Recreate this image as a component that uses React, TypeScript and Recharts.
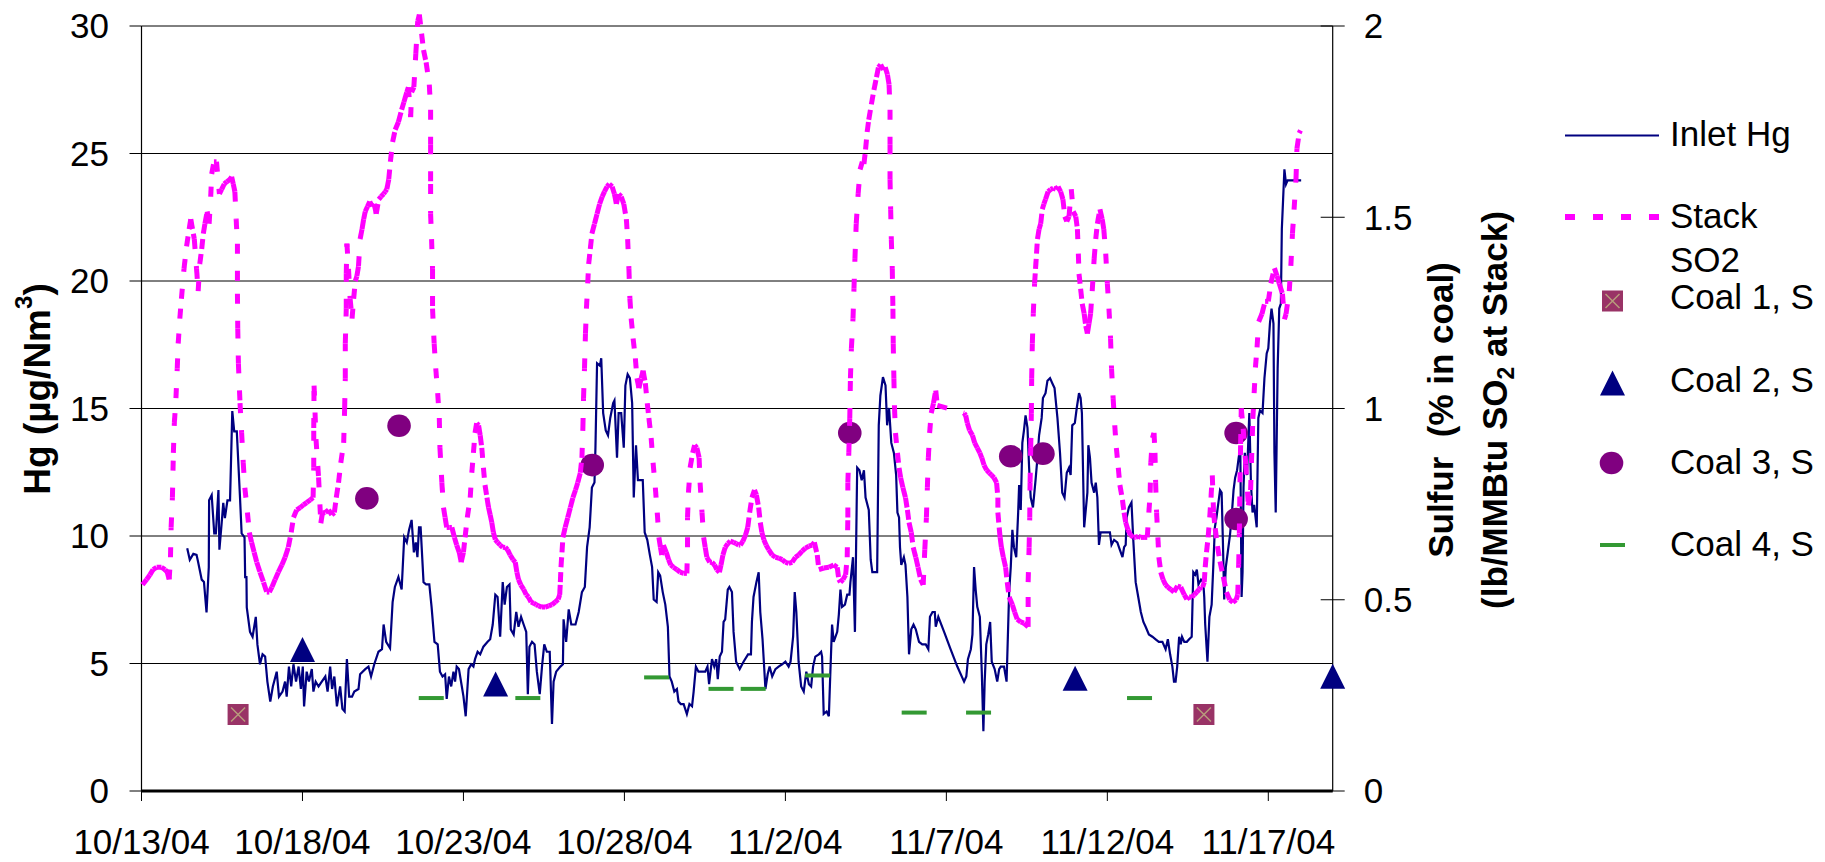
import React from 'react';
import {
  ComposedChart,
  Line,
  Scatter,
  XAxis,
  YAxis,
  CartesianGrid,
  ReferenceLine,
  Legend,
} from 'recharts';

const NAVY = '#000080';
const MAGENTA = '#FF00FF';
const PURPLE = '#800080';
const GREEN = '#339933';
const MAUVE = '#993366';
const FONT = "'Liberation Sans', Arial, Helvetica, sans-serif";

// x axis: days since 10/13/04
const dayTicks = [0, 5, 10, 15, 20, 25, 30, 35];
const dateLabels = ['10/13/04', '10/18/04', '10/23/04', '10/28/04', '11/2/04', '11/7/04', '11/12/04', '11/17/04'];
const hgTicks = [0, 5, 10, 15, 20, 25, 30];
const sulfurTicks = [0, 0.5, 1, 1.5, 2];
const sulfurTickLabels = ['0', '0.5', '1', '1.5', '2'];

// Inlet Hg (µg/Nm³): [day, value]
const inletHg: [number, number][] = [
  [1.42, 9.52], [1.5, 9.07], [1.61, 9.3], [1.71, 9.26], [1.76, 8.97], [1.87, 8.29], [1.94, 8.2], [2.02, 7.0],
  [2.09, 8.78], [2.1, 11.4], [2.18, 11.6], [2.26, 10.1], [2.31, 10.1], [2.39, 11.8], [2.42, 9.46], [2.49, 10.5],
  [2.54, 11.3], [2.59, 10.7], [2.67, 11.4], [2.75, 11.4], [2.82, 14.9], [2.88, 14.1], [2.96, 14.1], [3.06, 11.5],
  [3.11, 10.1], [3.2, 9.95], [3.22, 8.39], [3.26, 8.39], [3.27, 7.2], [3.37, 6.24], [3.45, 6.05], [3.55, 6.83],
  [3.6, 5.75], [3.68, 4.97], [3.76, 5.36], [3.84, 5.27], [3.91, 4.29], [4.0, 3.51], [4.08, 4.1], [4.2, 4.68],
  [4.27, 3.7], [4.38, 3.9], [4.46, 4.29], [4.51, 3.7], [4.58, 4.88], [4.65, 4.1], [4.72, 4.97], [4.8, 4.29],
  [4.88, 4.88], [4.95, 4.0], [5.01, 4.88], [5.05, 3.32], [5.13, 4.68], [5.2, 4.29], [5.29, 4.78], [5.34, 3.9],
  [5.41, 4.29], [5.5, 4.1], [5.6, 4.29], [5.71, 4.49], [5.78, 3.9], [5.86, 4.88], [5.92, 4.0], [5.99, 4.49],
  [6.07, 3.32], [6.17, 4.1], [6.24, 3.22], [6.31, 3.12], [6.38, 5.17], [6.45, 3.7], [6.54, 3.7], [6.61, 3.9],
  [6.74, 4.0], [6.79, 4.58], [6.95, 4.78], [7.05, 4.88], [7.13, 4.49], [7.23, 4.97], [7.36, 5.46], [7.47, 5.56],
  [7.52, 6.53], [7.6, 5.85], [7.72, 5.6], [7.8, 7.41], [7.87, 8.0], [7.98, 8.39], [8.08, 7.9], [8.16, 9.95],
  [8.24, 9.75], [8.31, 10.24], [8.39, 10.63], [8.46, 9.36], [8.52, 9.75], [8.57, 9.17], [8.62, 10.34], [8.67, 10.34],
  [8.76, 8.19], [8.84, 8.1], [8.94, 8.1], [9.01, 7.22], [9.1, 5.85], [9.2, 5.75], [9.27, 4.68], [9.35, 4.49],
  [9.43, 4.58], [9.48, 3.61], [9.55, 4.49], [9.62, 4.1], [9.69, 4.68], [9.74, 4.29], [9.79, 4.88], [9.86, 4.78],
  [9.95, 4.1], [10.0, 3.71], [10.07, 2.93], [10.16, 4.78], [10.24, 4.97], [10.31, 4.88], [10.36, 5.17], [10.44, 5.46],
  [10.52, 5.36], [10.62, 5.66], [10.75, 5.85], [10.83, 5.95], [10.91, 6.53], [10.99, 7.7], [11.06, 7.61], [11.14, 6.05],
  [11.22, 8.19], [11.28, 7.31], [11.35, 8.0], [11.43, 8.1], [11.47, 6.34], [11.56, 6.14], [11.64, 7.02], [11.71, 6.44],
  [11.79, 6.83], [11.87, 6.53], [11.95, 6.24], [12.0, 3.8], [12.05, 5.66], [12.13, 5.85], [12.21, 5.75], [12.28, 4.68],
  [12.37, 3.8], [12.44, 4.88], [12.51, 5.75], [12.59, 5.46], [12.68, 5.46], [12.75, 2.63], [12.8, 4.29], [12.88, 4.68],
  [13.01, 4.88], [13.09, 4.97], [13.11, 6.73], [13.19, 5.85], [13.27, 7.12], [13.35, 6.53], [13.48, 6.53], [13.58, 7.02],
  [13.68, 7.8], [13.77, 8.0], [13.84, 9.56], [13.92, 10.34], [13.99, 11.9], [14.07, 12.1], [14.1, 13.46], [14.15, 16.77],
  [14.24, 16.68], [14.28, 16.97], [14.34, 14.82], [14.42, 14.14], [14.49, 13.95], [14.56, 14.63], [14.65, 15.21], [14.69, 15.31],
  [14.77, 13.07], [14.82, 14.82], [14.9, 14.82], [14.98, 13.46], [15.03, 15.9], [15.1, 16.34], [15.17, 16.19], [15.24, 15.21],
  [15.29, 11.51], [15.36, 13.56], [15.42, 12.19], [15.5, 12.19], [15.57, 12.19], [15.63, 10.14], [15.71, 9.85], [15.79, 9.26],
  [15.86, 8.78], [15.91, 7.51], [16.0, 7.41], [16.05, 8.58], [16.11, 8.45], [16.19, 7.8], [16.27, 7.31], [16.35, 6.44],
  [16.4, 4.49], [16.47, 4.29], [16.55, 3.9], [16.63, 4.0], [16.68, 3.51], [16.75, 3.41], [16.84, 3.41], [16.94, 3.02],
  [17.02, 3.41], [17.1, 3.32], [17.15, 3.9], [17.22, 4.88], [17.3, 4.68], [17.41, 4.68], [17.51, 4.68], [17.58, 4.88],
  [17.63, 4.19], [17.72, 5.17], [17.79, 4.88], [17.85, 5.17], [17.9, 4.39], [17.96, 5.27], [18.03, 5.46], [18.08, 6.63],
  [18.13, 6.73], [18.21, 7.9], [18.26, 8.0], [18.34, 7.8], [18.39, 6.24], [18.47, 5.07], [18.58, 4.78], [18.7, 5.07],
  [18.84, 5.36], [18.93, 5.36], [18.96, 6.63], [19.01, 7.61], [19.1, 8.19], [19.17, 8.58], [19.22, 7.02], [19.29, 5.95],
  [19.38, 4.0], [19.45, 4.58], [19.51, 4.88], [19.59, 4.49], [19.69, 4.78], [19.79, 4.88], [19.9, 4.97], [20.0, 5.07],
  [20.1, 4.88], [20.16, 5.07], [20.24, 6.05], [20.29, 7.8], [20.34, 7.02], [20.41, 5.07], [20.49, 4.1], [20.57, 3.9],
  [20.65, 4.68], [20.73, 4.19], [20.8, 4.1], [20.86, 4.88], [20.93, 5.27], [21.04, 5.36], [21.11, 5.46], [21.14, 5.27],
  [21.19, 3.02], [21.28, 3.12], [21.35, 2.93], [21.4, 4.78], [21.45, 6.53], [21.5, 5.85], [21.61, 6.24], [21.66, 6.92],
  [21.71, 7.9], [21.76, 7.22], [21.85, 7.31], [21.92, 7.7], [21.99, 7.7], [22.02, 8.19], [22.1, 9.17], [22.16, 6.24],
  [22.23, 12.68], [22.3, 12.58], [22.37, 12.19], [22.44, 12.58], [22.49, 11.51], [22.59, 11.02], [22.65, 9.07], [22.7, 8.58],
  [22.8, 8.58], [22.85, 8.58], [22.9, 14.34], [22.95, 15.51], [23.03, 16.23], [23.11, 15.9], [23.16, 14.34], [23.22, 15.02],
  [23.29, 13.65], [23.37, 13.26], [23.44, 12.39], [23.48, 10.92], [23.53, 10.73], [23.56, 9.56], [23.6, 8.87], [23.68, 9.17],
  [23.73, 8.87], [23.79, 7.61], [23.84, 5.36], [23.91, 6.34], [23.98, 6.53], [24.05, 6.34], [24.15, 5.85], [24.25, 5.75],
  [24.36, 5.75], [24.44, 5.56], [24.49, 6.83], [24.57, 7.02], [24.64, 7.02], [24.67, 6.44], [24.75, 6.83], [24.93, 6.24],
  [25.13, 5.56], [25.34, 4.88], [25.55, 4.29], [25.62, 4.49], [25.67, 5.17], [25.76, 5.56], [25.81, 6.14], [25.86, 8.78],
  [25.91, 7.9], [25.96, 7.22], [26.04, 6.83], [26.1, 4.68], [26.15, 2.34], [26.19, 4.29], [26.24, 5.75], [26.3, 6.14],
  [26.36, 6.63], [26.41, 5.07], [26.5, 4.78], [26.58, 4.29], [26.64, 4.78], [26.69, 4.88], [26.79, 4.88], [26.87, 4.29],
  [26.95, 7.8], [27.0, 8.78], [27.05, 10.24], [27.1, 9.56], [27.17, 9.17], [27.23, 10.92], [27.26, 12.0], [27.31, 11.02],
  [27.36, 13.65], [27.41, 14.14], [27.46, 14.73], [27.52, 14.24], [27.57, 12.68], [27.62, 11.51], [27.69, 11.12], [27.77, 12.19],
  [27.83, 13.07], [27.88, 13.95], [27.96, 14.63], [28.0, 15.41], [28.08, 15.6], [28.14, 16.09], [28.22, 16.19], [28.29, 15.99],
  [28.36, 15.8], [28.45, 14.63], [28.53, 13.26], [28.6, 11.7], [28.67, 11.51], [28.74, 12.48], [28.81, 12.68], [28.86, 12.39],
  [28.91, 14.34], [28.99, 14.43], [29.05, 15.02], [29.12, 15.6], [29.17, 15.41], [29.21, 14.82], [29.28, 10.34], [29.33, 11.02],
  [29.38, 11.7], [29.41, 13.56], [29.46, 13.07], [29.51, 12.09], [29.59, 11.7], [29.64, 12.09], [29.69, 11.51], [29.74, 9.65],
  [29.79, 10.14], [29.9, 10.14], [30.0, 10.14], [30.08, 10.14], [30.13, 9.65], [30.21, 9.85], [30.31, 9.75], [30.39, 9.46],
  [30.47, 9.17], [30.52, 9.56], [30.57, 9.65], [30.6, 10.73], [30.67, 11.12], [30.75, 11.31], [30.81, 9.75], [30.88, 8.19],
  [30.96, 7.61], [31.04, 7.02], [31.12, 6.63], [31.19, 6.44], [31.29, 6.14], [31.4, 6.05], [31.5, 5.95], [31.6, 5.85],
  [31.71, 5.85], [31.81, 5.56], [31.88, 5.95], [31.95, 5.36], [32.02, 4.88], [32.07, 4.29], [32.12, 4.29], [32.17, 4.88],
  [32.23, 6.05], [32.28, 5.75], [32.32, 6.05], [32.39, 5.85], [32.47, 5.85], [32.54, 5.95], [32.62, 6.05], [32.67, 8.58],
  [32.73, 8.48], [32.78, 8.68], [32.83, 8.1], [32.91, 8.29], [32.98, 8.19], [33.01, 7.61], [33.04, 6.53], [33.11, 5.07],
  [33.17, 6.83], [33.24, 7.31], [33.29, 8.78], [33.34, 10.34], [33.39, 10.73], [33.45, 11.31], [33.5, 11.8], [33.55, 11.7],
  [33.59, 9.75], [33.63, 7.51], [33.68, 8.78], [33.74, 9.36], [33.81, 10.04], [33.86, 10.73], [33.92, 11.8], [33.97, 12.29],
  [34.03, 12.58], [34.08, 13.07], [34.13, 13.46], [34.17, 7.61], [34.2, 8.58], [34.23, 11.9], [34.27, 13.26], [34.34, 12.39],
  [34.41, 14.82], [34.46, 12.09], [34.51, 10.92], [34.56, 11.22], [34.64, 10.34], [34.69, 14.63], [34.74, 14.92], [34.82, 14.82],
  [34.88, 16.19], [34.95, 17.16], [35.0, 17.36], [35.05, 18.33], [35.1, 18.92], [35.16, 18.33], [35.19, 13.26], [35.23, 10.92],
  [35.29, 16.58], [35.34, 18.92], [35.39, 19.11], [35.42, 22.04], [35.46, 23.21], [35.5, 24.38], [35.55, 23.8], [35.6, 23.95],
  [35.7, 23.95], [35.86, 23.95], [36.02, 23.95],
];

// Stack SO2 (lb/MMBtu): [day, value]
const stackSO2: [number, number][] = [
  [0.03, 0.539], [0.16, 0.553], [0.26, 0.565], [0.36, 0.579], [0.47, 0.585], [0.62, 0.585], [0.73, 0.579], [0.8, 0.572],
  [0.86, 0.553], [0.9, 0.611], [0.92, 0.689], [0.96, 0.767], [0.99, 0.884], [1.02, 0.962], [1.07, 1.027], [1.11, 1.105],
  [1.14, 1.17], [1.19, 1.235], [1.24, 1.287], [1.32, 1.365], [1.4, 1.424], [1.48, 1.469], [1.53, 1.495], [1.61, 1.457],
  [1.64, 1.443], [1.71, 1.365], [1.76, 1.307], [1.81, 1.378], [1.87, 1.417], [1.92, 1.457], [1.97, 1.483], [2.04, 1.515],
  [2.1, 1.483], [2.15, 1.554], [2.18, 1.613], [2.25, 1.645], [2.33, 1.645], [2.42, 1.561], [2.49, 1.573], [2.57, 1.587],
  [2.65, 1.593], [2.75, 1.599], [2.8, 1.606], [2.85, 1.587], [2.9, 1.567], [2.94, 1.495], [2.98, 1.431], [2.98, 1.3],
  [2.99, 1.209], [3.01, 1.118], [3.06, 1.014], [3.11, 0.936], [3.16, 0.858], [3.21, 0.793], [3.29, 0.728], [3.35, 0.676],
  [3.42, 0.65], [3.5, 0.624], [3.58, 0.598], [3.68, 0.572], [3.79, 0.546], [3.89, 0.52], [3.97, 0.52], [4.05, 0.533],
  [4.15, 0.553], [4.25, 0.572], [4.36, 0.591], [4.46, 0.611], [4.56, 0.637], [4.65, 0.676], [4.72, 0.715], [4.82, 0.735],
  [4.93, 0.741], [5.03, 0.748], [5.13, 0.754], [5.24, 0.761], [5.33, 0.767], [5.35, 0.845], [5.35, 0.949], [5.36, 1.06],
  [5.42, 0.92], [5.5, 0.82], [5.57, 0.7], [5.62, 0.727], [5.71, 0.728], [5.81, 0.735], [5.91, 0.722], [5.99, 0.728],
  [6.05, 0.767], [6.12, 0.806], [6.19, 0.858], [6.28, 0.91], [6.31, 1.001], [6.33, 1.079], [6.33, 1.17], [6.36, 1.261],
  [6.36, 1.352], [6.38, 1.431], [6.43, 1.365], [6.48, 1.287], [6.54, 1.235], [6.59, 1.287], [6.64, 1.333], [6.69, 1.346],
  [6.74, 1.372], [6.79, 1.443], [6.85, 1.469], [6.9, 1.495], [6.95, 1.515], [7.02, 1.528], [7.09, 1.541], [7.16, 1.528],
  [7.23, 1.535], [7.29, 1.509], [7.37, 1.547], [7.44, 1.554], [7.52, 1.561], [7.57, 1.567], [7.62, 1.573], [7.68, 1.599],
  [7.73, 1.645], [7.8, 1.697], [7.88, 1.729], [7.98, 1.749], [8.08, 1.781], [8.15, 1.801], [8.24, 1.827], [8.29, 1.84],
  [8.36, 1.762], [8.39, 1.827], [8.46, 1.84], [8.52, 1.927], [8.58, 2.013], [8.63, 2.03], [8.7, 1.98], [8.76, 1.937],
  [8.84, 1.905], [8.94, 1.847], [8.98, 1.781], [8.98, 1.691], [8.98, 1.587], [8.98, 1.509], [9.01, 1.443], [9.04, 1.365],
  [9.04, 1.261], [9.09, 1.17], [9.14, 1.105], [9.2, 1.04], [9.25, 0.975], [9.27, 0.897], [9.33, 0.806], [9.38, 0.741],
  [9.43, 0.715], [9.48, 0.689], [9.56, 0.689], [9.64, 0.689], [9.72, 0.663], [9.79, 0.643], [9.87, 0.624], [9.93, 0.598],
  [10.0, 0.624], [10.05, 0.663], [10.12, 0.715], [10.21, 0.767], [10.26, 0.832], [10.31, 0.884], [10.36, 0.936], [10.41, 0.962],
  [10.47, 0.956], [10.52, 0.93], [10.57, 0.897], [10.62, 0.845], [10.67, 0.8], [10.73, 0.767], [10.78, 0.741], [10.83, 0.722],
  [10.88, 0.702], [10.93, 0.676], [10.99, 0.657], [11.06, 0.65], [11.14, 0.643], [11.22, 0.637], [11.3, 0.637], [11.37, 0.631],
  [11.45, 0.617], [11.54, 0.605], [11.61, 0.598], [11.66, 0.572], [11.71, 0.553], [11.78, 0.539], [11.87, 0.527], [11.95, 0.513],
  [12.02, 0.507], [12.1, 0.494], [12.18, 0.491], [12.26, 0.487], [12.33, 0.484], [12.44, 0.481], [12.54, 0.481], [12.65, 0.484],
  [12.75, 0.487], [12.85, 0.494], [12.94, 0.501], [12.99, 0.513], [13.01, 0.546], [13.03, 0.585], [13.06, 0.624], [13.09, 0.663],
  [13.16, 0.689], [13.24, 0.715], [13.32, 0.741], [13.4, 0.767], [13.48, 0.787], [13.55, 0.806], [13.63, 0.832], [13.68, 0.871],
  [13.71, 0.949], [13.73, 1.027], [13.76, 1.105], [13.79, 1.196], [13.82, 1.261], [13.86, 1.327], [13.89, 1.378], [13.94, 1.417],
  [13.99, 1.457], [14.07, 1.483], [14.15, 1.509], [14.23, 1.535], [14.31, 1.554], [14.38, 1.567], [14.46, 1.58], [14.53, 1.587],
  [14.62, 1.58], [14.69, 1.561], [14.75, 1.535], [14.82, 1.561], [14.9, 1.554], [14.98, 1.535], [15.06, 1.495], [15.1, 1.443],
  [15.14, 1.365], [15.17, 1.287], [15.21, 1.235], [15.27, 1.183], [15.34, 1.131], [15.39, 1.079], [15.45, 1.053], [15.52, 1.079],
  [15.58, 1.099], [15.65, 1.066], [15.71, 1.014], [15.76, 0.975], [15.83, 0.923], [15.89, 0.858], [15.96, 0.793], [16.02, 0.728],
  [16.07, 0.663], [16.12, 0.637], [16.16, 0.617], [16.21, 0.643], [16.3, 0.624], [16.37, 0.605], [16.44, 0.591], [16.52, 0.585],
  [16.63, 0.579], [16.73, 0.572], [16.84, 0.569], [16.94, 0.569], [16.96, 0.637], [16.96, 0.715], [16.99, 0.78], [17.04, 0.845],
  [17.12, 0.884], [17.18, 0.904], [17.25, 0.897], [17.32, 0.871], [17.35, 0.806], [17.41, 0.728], [17.46, 0.663], [17.51, 0.637],
  [17.56, 0.611], [17.65, 0.598], [17.72, 0.598], [17.8, 0.591], [17.87, 0.579], [17.95, 0.572], [18.0, 0.591], [18.06, 0.617],
  [18.13, 0.637], [18.21, 0.647], [18.29, 0.653], [18.39, 0.65], [18.47, 0.647], [18.55, 0.643], [18.6, 0.643], [18.68, 0.653],
  [18.76, 0.669], [18.83, 0.689], [18.89, 0.728], [18.96, 0.767], [19.04, 0.787], [19.1, 0.774], [19.17, 0.741], [19.22, 0.702],
  [19.27, 0.676], [19.33, 0.657], [19.4, 0.643], [19.48, 0.631], [19.59, 0.617], [19.69, 0.611], [19.79, 0.609], [19.9, 0.605],
  [20.0, 0.598], [20.1, 0.595], [20.21, 0.598], [20.31, 0.611], [20.41, 0.617], [20.52, 0.627], [20.62, 0.635], [20.73, 0.64],
  [20.83, 0.643], [20.9, 0.65], [20.99, 0.617], [21.04, 0.579], [21.19, 0.583], [21.35, 0.585], [21.5, 0.591], [21.61, 0.585],
  [21.66, 0.553], [21.71, 0.546], [21.79, 0.553], [21.87, 0.565], [21.92, 0.611], [21.94, 0.715], [21.94, 0.806], [21.97, 0.884],
  [22.0, 0.975], [22.02, 1.079], [22.05, 1.157], [22.1, 1.235], [22.13, 1.313], [22.16, 1.391], [22.2, 1.483], [22.26, 1.561],
  [22.32, 1.625], [22.39, 1.645], [22.44, 1.639], [22.49, 1.677], [22.54, 1.723], [22.59, 1.755], [22.67, 1.795], [22.75, 1.833],
  [22.83, 1.866], [22.89, 1.892], [22.96, 1.899], [23.04, 1.885], [23.1, 1.892], [23.17, 1.873], [23.22, 1.847], [23.25, 1.781],
  [23.25, 1.691], [23.25, 1.599], [23.27, 1.521], [23.29, 1.443], [23.32, 1.365], [23.34, 1.261], [23.35, 1.17], [23.37, 1.079],
  [23.39, 1.001], [23.42, 0.936], [23.48, 0.884], [23.53, 0.845], [23.58, 0.819], [23.65, 0.793], [23.73, 0.767], [23.79, 0.735],
  [23.84, 0.702], [23.91, 0.676], [23.97, 0.637], [24.05, 0.611], [24.12, 0.585], [24.2, 0.553], [24.28, 0.539], [24.33, 0.631],
  [24.38, 0.715], [24.41, 0.793], [24.44, 0.871], [24.48, 0.936], [24.53, 0.988], [24.6, 1.014], [24.67, 1.047], [24.72, 1.008],
  [25.55, 0.988], [25.6, 0.982], [25.65, 0.962], [25.72, 0.943],
  [25.81, 0.93], [25.88, 0.91], [25.96, 0.897], [26.04, 0.884], [26.1, 0.871], [26.17, 0.852], [26.25, 0.839], [26.33, 0.832],
  [26.4, 0.826], [26.48, 0.819], [26.56, 0.806], [26.6, 0.767], [26.6, 0.728], [26.64, 0.689], [26.67, 0.663], [26.71, 0.637],
  [26.77, 0.611], [26.84, 0.585], [26.89, 0.546], [26.95, 0.507], [27.05, 0.487], [27.12, 0.468], [27.2, 0.449], [27.31, 0.442],
  [27.41, 0.439], [27.54, 0.429], [27.54, 0.481], [27.54, 0.546], [27.57, 0.637], [27.59, 0.715], [27.6, 0.806], [27.62, 0.897],
  [27.64, 0.988], [27.65, 1.079], [27.67, 1.17], [27.7, 1.248], [27.74, 1.327], [27.77, 1.365], [27.8, 1.405], [27.83, 1.443],
  [27.88, 1.469], [27.93, 1.483], [27.98, 1.521], [28.03, 1.535], [28.08, 1.547], [28.16, 1.567], [28.24, 1.573], [28.32, 1.576],
  [28.4, 1.573], [28.47, 1.58], [28.55, 1.567], [28.62, 1.547], [28.68, 1.502], [28.74, 1.489], [28.81, 1.502], [28.88, 1.573],
  [28.94, 1.515], [29.02, 1.502], [29.07, 1.469], [29.1, 1.405], [29.12, 1.352], [29.17, 1.313], [29.22, 1.274], [29.28, 1.248],
  [29.33, 1.216], [29.38, 1.196], [29.43, 1.222], [29.48, 1.248], [29.53, 1.307], [29.59, 1.391], [29.64, 1.443], [29.69, 1.483],
  [29.77, 1.521], [29.84, 1.495], [29.89, 1.469], [29.95, 1.405], [30.0, 1.327], [30.05, 1.261], [30.1, 1.183], [30.13, 1.105],
  [30.18, 1.027], [30.23, 0.956], [30.28, 0.897], [30.34, 0.845], [30.39, 0.8], [30.47, 0.761], [30.52, 0.728], [30.57, 0.702],
  [30.64, 0.683], [30.72, 0.669], [30.81, 0.663], [30.88, 0.663], [30.96, 0.666], [31.04, 0.663], [31.14, 0.663], [31.24, 0.663],
  [31.29, 0.728], [31.33, 0.78], [31.35, 0.858], [31.4, 0.923], [31.45, 0.936], [31.48, 0.884], [31.5, 0.806], [31.53, 0.728],
  [31.57, 0.663], [31.6, 0.611], [31.66, 0.572], [31.73, 0.553], [31.81, 0.539], [31.88, 0.533], [31.97, 0.527], [32.07, 0.52],
  [32.18, 0.536], [32.28, 0.533], [32.39, 0.513], [32.47, 0.501], [32.54, 0.507], [32.62, 0.507], [32.7, 0.513], [32.78, 0.52],
  [32.85, 0.527], [32.91, 0.533], [32.96, 0.533], [33.01, 0.546], [33.04, 0.585], [33.08, 0.624], [33.13, 0.663], [33.18, 0.715],
  [33.22, 0.767], [33.26, 0.825], [33.3, 0.727], [33.35, 0.687], [33.42, 0.64], [33.5, 0.6], [33.6, 0.56], [33.7, 0.52],
  [33.8, 0.5], [33.9, 0.493], [34.0, 0.5], [34.05, 0.513], [34.08, 0.593], [34.1, 0.673], [34.12, 0.807], [34.14, 0.907],
  [34.16, 1.0], [34.22, 0.947], [34.3, 0.853], [34.38, 0.747], [34.45, 0.787], [34.52, 0.973], [34.56, 1.04], [34.6, 1.107],
  [34.65, 1.16], [34.7, 1.227], [34.8, 1.247], [34.9, 1.28], [35.0, 1.28], [35.08, 1.327], [35.19, 1.367], [35.27, 1.347],
  [35.34, 1.327], [35.44, 1.3], [35.5, 1.233], [35.55, 1.247], [35.65, 1.307], [35.7, 1.373], [35.75, 1.457], [35.8, 1.52],
  [35.86, 1.6], [35.89, 1.68], [35.96, 1.72], [36.0, 1.727],
];

// Coal sulfur (% in coal): [day, value]
const coal1S: [number, number][] = [[3, 0.2], [33, 0.2]];
const coal2S: [number, number][] = [[5, 0.37], [11, 0.28], [29, 0.295], [37, 0.3]];
const coal3S: [number, number][] = [[7, 0.765], [8, 0.955], [14, 0.852], [22, 0.936], [27, 0.875], [28, 0.882], [34, 0.936], [34, 0.711]];
const coal4S: [number, number][] = [[9, 0.243], [12, 0.243], [16, 0.297], [18, 0.267], [19, 0.267], [21, 0.302], [24, 0.205], [26, 0.205], [31, 0.243]];

const legendNames = ['Inlet Hg', 'Stack SO2', 'Coal 1, S', 'Coal 2, S', 'Coal 3, S', 'Coal 4, S'];

const rows = (pairs: [number, number][]) => pairs.map(([day, v]) => ({ day, v }));

const hgData = rows(inletHg);
const so2Data = rows(stackSO2);
const coal1Data = rows(coal1S);
const coal2Data = rows(coal2S);
const coal3Data = rows(coal3S);
const coal4Data = rows(coal4S);

// Each SO2 segment restarts its dash pattern, so short wiggly stretches read as solid
const So2Segment = (props: any) => {
  const { cx, cy, index, points } = props;
  const next = points ? points[index + 1] : undefined;
  if (!next || cx == null || cy == null || next.x == null || next.y == null) {
    return <g key={`so2-${index}`} />;
  }
  return (
    <line
      key={`so2-${index}`}
      x1={cx}
      y1={cy}
      x2={next.x}
      y2={next.y}
      stroke={MAGENTA}
      strokeWidth={5}
      strokeDasharray="10 17"
      strokeLinecap="butt"
    />
  );
};

const SquareMark = ({ cx, cy }: any) => (
  <g>
    <rect x={cx - 10.5} y={cy - 10.5} width={21} height={21} fill={MAUVE} />
    <path
      d={`M${cx - 7},${cy - 7}L${cx + 7},${cy + 7}M${cx + 7},${cy - 7}L${cx - 7},${cy + 7}`}
      stroke="#b89c7c"
      strokeWidth={1.5}
    />
  </g>
);
const TriangleMark = ({ cx, cy }: any) => (
  <polygon points={`${cx},${cy - 12.5} ${cx + 12.5},${cy + 12.5} ${cx - 12.5},${cy + 12.5}`} fill={NAVY} />
);
const CircleMark = ({ cx, cy }: any) => <ellipse cx={cx} cy={cy} rx={11.8} ry={11.3} fill={PURPLE} />;
const DashMark = ({ cx, cy }: any) => <rect x={cx - 12.5} y={cy - 2} width={25} height={4} fill={GREEN} />;

const RightTick = (props: any) => {
  const { x, y, payload } = props;
  const axisX = x - 31;
  const label = sulfurTickLabels[sulfurTicks.indexOf(payload.value)];
  return (
    <g>
      <line x1={axisX - 12} x2={axisX + 12} y1={y} y2={y} stroke="#000" strokeWidth={1} />
      <text x={x} y={y} dy="0.355em" textAnchor="start" fontSize={35} fill="#000">
        {label}
      </text>
    </g>
  );
};

const LeftTitle = () => (
  <text
    x={50}
    y={389}
    transform="rotate(-90 50 389)"
    textAnchor="middle"
    fontSize={37}
    fontWeight="bold"
    fill="#000"
  >
    Hg (µg/Nm<tspan fontSize={24} dy={-18}>3</tspan>
    <tspan dy={18}>)</tspan>
  </text>
);

const RightTitle = () => (
  <g fontSize={35} fontWeight="bold" fill="#000">
    <text x={1453} y={410} transform="rotate(-90 1453 410)" textAnchor="middle" style={{ whiteSpace: 'pre' }}>
      {'Sulfur  (% in coal)'}
    </text>
    <text x={1507} y={410} transform="rotate(-90 1507 410)" textAnchor="middle" style={{ whiteSpace: 'pre' }}>
      {'(lb/MMBtu SO'}
      <tspan fontSize={23} dy={7}>2</tspan>
      <tspan dy={-7}>{' at Stack)'}</tspan>
    </text>
  </g>
);

const renderLegend = () => (
  <svg width={285} height={480} style={{ overflow: 'visible', fontFamily: FONT }}>
    <g fontSize={35} fill="#000">
      <line x1={25} x2={119} y1={35.5} y2={35.5} stroke={NAVY} strokeWidth={2.2} />
      <text x={130} y={46}>{legendNames[0]}</text>

      <line x1={25} x2={119} y1={117} y2={117} stroke={MAGENTA} strokeWidth={6} strokeDasharray="10 18" />
      <text x={130} y={128}>{legendNames[1].split(' ')[0]}</text>
      <text x={130} y={172}>{legendNames[1].split(' ')[1]}</text>

      <SquareMark cx={72.5} cy={201} />
      <text x={130} y={208.5}>{legendNames[2]}</text>

      <TriangleMark cx={72.5} cy={283} />
      <text x={130} y={291.5}>{legendNames[3]}</text>

      <CircleMark cx={71.5} cy={363} />
      <text x={130} y={374}>{legendNames[4]}</text>

      <DashMark cx={72.5} cy={445} />
      <text x={130} y={456}>{legendNames[5]}</text>
    </g>
  </svg>
);

export default function App() {
  return (
    <div style={{ position: 'absolute', left: 0, top: 0, fontFamily: FONT, background: '#fff' }}>
      <ComposedChart width={1825} height={862} margin={{ top: 10.7, right: 392.3, bottom: 11, left: 41.5 }}>
        <CartesianGrid yAxisId="left" vertical={false} syncWithTicks stroke="#000" strokeWidth={1} />
        <XAxis
          dataKey="day"
          type="number"
          domain={[0, 37]}
          ticks={dayTicks}
          interval={0}
          height={60}
          axisLine={{ stroke: '#000', strokeWidth: 3 }}
          tickLine={{ stroke: '#000', strokeWidth: 1 }}
          tickSize={10}
          tickMargin={28.5}
          tick={{ fill: '#000', fontSize: 35 }}
          tickFormatter={(v: number) => dateLabels[dayTicks.indexOf(v)]}
        />
        <YAxis
          yAxisId="left"
          type="number"
          domain={[0, 30.6]}
          ticks={hgTicks}
          interval={0}
          width={100}
          axisLine={false}
          tickLine={{ stroke: '#000', strokeWidth: 1 }}
          tickSize={12}
          tickMargin={20.5}
          tick={{ fill: '#000', fontSize: 35 }}
          label={LeftTitle}
        />
        <YAxis
          yAxisId="right"
          orientation="right"
          type="number"
          domain={[0, 2.04]}
          ticks={sulfurTicks}
          interval={0}
          width={100}
          axisLine={false}
          tickLine={false}
          tickSize={12}
          tickMargin={19}
          tick={RightTick}
          label={RightTitle}
        />
        <ReferenceLine yAxisId="left" segment={[{ x: 0, y: 0 }, { x: 0, y: 30 }]} stroke="#000" strokeWidth={1.2} />
        <ReferenceLine yAxisId="left" segment={[{ x: 37, y: 0 }, { x: 37, y: 30 }]} stroke="#000" strokeWidth={1.2} />

        <Line
          yAxisId="left"
          data={hgData}
          dataKey="v"
          name={legendNames[0]}
          type="linear"
          stroke={NAVY}
          strokeWidth={2.2}
          dot={false}
          activeDot={false}
          isAnimationActive={false}
        />
        <Line
          yAxisId="right"
          data={so2Data}
          dataKey="v"
          name={legendNames[1]}
          type="linear"
          stroke="none"
          dot={So2Segment}
          activeDot={false}
          isAnimationActive={false}
        />
        <Scatter yAxisId="right" data={coal1Data} dataKey="v" name={legendNames[2]} shape={SquareMark} isAnimationActive={false} />
        <Scatter yAxisId="right" data={coal2Data} dataKey="v" name={legendNames[3]} shape={TriangleMark} isAnimationActive={false} />
        <Scatter yAxisId="right" data={coal3Data} dataKey="v" name={legendNames[4]} shape={CircleMark} isAnimationActive={false} />
        <Scatter yAxisId="right" data={coal4Data} dataKey="v" name={legendNames[5]} shape={DashMark} isAnimationActive={false} />

        <Legend
          layout="horizontal"
          verticalAlign="middle"
          align="center"
          content={renderLegend}
          wrapperStyle={{ left: 1540, top: 100, width: 285, height: 480 }}
        />
      </ComposedChart>
    </div>
  );
}
